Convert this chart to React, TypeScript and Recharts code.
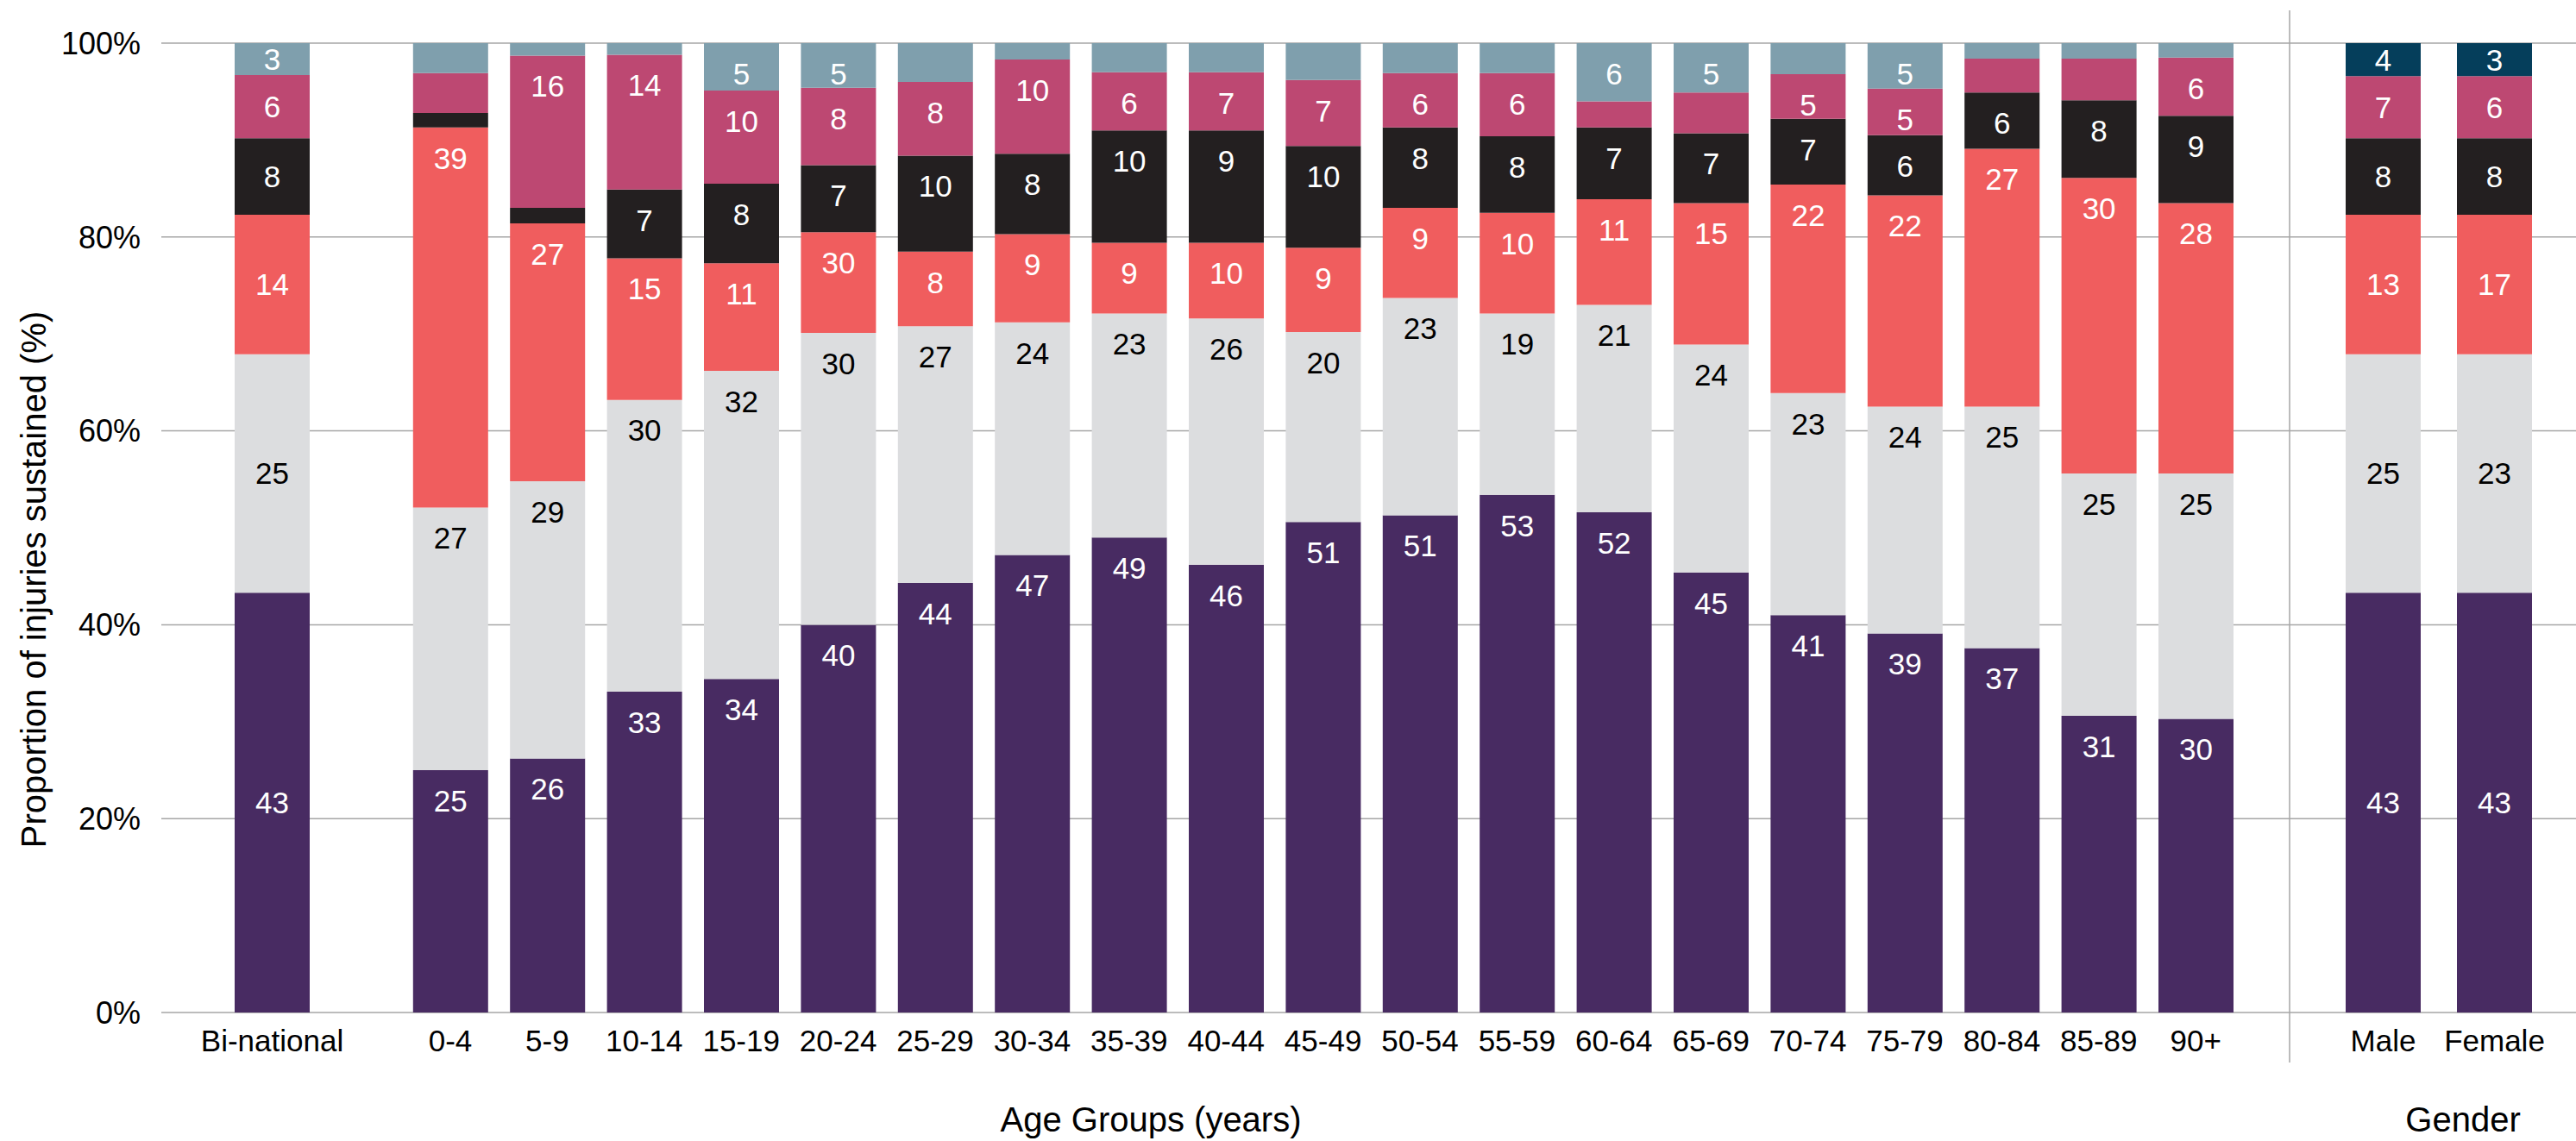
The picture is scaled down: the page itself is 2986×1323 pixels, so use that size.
import { BarChart, Bar, XAxis, YAxis, CartesianGrid, LabelList } from "recharts";

const categories = [
  "Bi-national",
  "0-4", "5-9", "10-14", "15-19", "20-24", "25-29", "30-34", "35-39", "40-44",
  "45-49", "50-54", "55-59", "60-64", "65-69", "70-74", "75-79", "80-84", "85-89", "90+",
  "Male", "Female",
];

// segment heights (% of injuries), bottom to top
const purple = [43.3, 25.0, 26.2, 33.1, 34.4, 40.0, 44.3, 47.2, 49.0, 46.2, 50.6, 51.3, 53.4, 51.6, 45.4, 41.0, 39.1, 37.6, 30.6, 30.3, 43.3, 43.3];
const grey = [24.6, 27.1, 28.6, 30.1, 31.8, 30.1, 26.5, 24.0, 23.1, 25.4, 19.6, 22.4, 18.7, 21.4, 23.5, 22.9, 23.4, 24.9, 25.0, 25.3, 24.6, 24.6];
const coral = [14.4, 39.2, 26.6, 14.6, 11.1, 10.4, 7.7, 9.1, 7.3, 7.8, 8.7, 9.3, 10.4, 10.9, 14.6, 21.5, 21.8, 26.6, 30.5, 27.9, 14.4, 14.4];
const black = [7.9, 1.5, 1.6, 7.1, 8.2, 6.9, 9.9, 8.3, 11.6, 11.6, 10.5, 8.3, 7.9, 7.4, 7.2, 6.8, 6.2, 5.8, 8.0, 9.0, 7.9, 7.9];
const pink = [6.5, 4.1, 15.7, 13.9, 9.6, 8.0, 7.6, 9.7, 6.0, 6.0, 6.8, 5.6, 6.5, 2.7, 4.2, 4.6, 4.8, 3.5, 4.3, 6.0, 6.4, 6.4];
const top = [3.3, 3.1, 1.3, 1.2, 4.9, 4.6, 4.0, 1.7, 3.0, 3.0, 3.8, 3.1, 3.1, 6.0, 5.1, 3.2, 4.7, 1.6, 1.6, 1.5, 3.4, 3.4];

// printed data labels (null = no label on that segment)
const purpleLabels = ["43", "25", "26", "33", "34", "40", "44", "47", "49", "46", "51", "51", "53", "52", "45", "41", "39", "37", "31", "30", "43", "43"];
const greyLabels = ["25", "27", "29", "30", "32", "30", "27", "24", "23", "26", "20", "23", "19", "21", "24", "23", "24", "25", "25", "25", "25", "23"];
const coralLabels = ["14", "39", "27", "15", "11", "30", "8", "9", "9", "10", "9", "9", "10", "11", "15", "22", "22", "27", "30", "28", "13", "17"];
const blackLabels = ["8", null, null, "7", "8", "7", "10", "8", "10", "9", "10", "8", "8", "7", "7", "7", "6", "6", "8", "9", "8", "8"];
const pinkLabels = ["6", null, "16", "14", "10", "8", "8", "10", "6", "7", "7", "6", "6", null, null, "5", "5", null, null, "6", "7", "6"];
const topLabels = ["3", null, null, null, "5", "5", null, null, null, null, null, null, null, "6", "5", null, "5", null, null, null, "4", "3"];

const yTicks = [0, 20, 40, 60, 80, 100];

const rows = categories.map((category, i) => ({
  category,
  purple: purple[i],
  grey: grey[i],
  coral: coral[i],
  black: black[i],
  pink: pink[i],
  top: top[i],
  purpleLabel: purpleLabels[i],
  greyLabel: greyLabels[i],
  coralLabel: coralLabels[i],
  blackLabel: blackLabels[i],
  pinkLabel: pinkLabels[i],
  topLabel: topLabels[i],
}));

const FONT = "'Liberation Sans', Arial, Helvetica, sans-serif";
const GRID = "#a6a6a6";
const CHART_H = 1323;
const MARGIN = { top: 50, right: 0, bottom: 0, left: 0 };

type Row = (typeof rows)[number];

type PanelProps = {
  data: Row[];
  width: number;
  padding: { left: number; right: number };
  showYAxis?: boolean;
  labelPos: "center" | "insideTop";
  topColor: string;
};

const Panel = ({ data, width, padding, showYAxis, labelPos, topColor }: PanelProps) => {
  const series = [
    { key: "purple", color: "#482b62", text: "#ffffff" },
    { key: "grey", color: "#dcdddf", text: "#000000" },
    { key: "coral", color: "#f05d5e", text: "#ffffff" },
    { key: "black", color: "#231f20", text: "#ffffff" },
    { key: "pink", color: "#bd4872", text: "#ffffff" },
    { key: "top", color: topColor, text: "#ffffff" },
  ];
  return (
    <BarChart width={width} height={CHART_H} data={data} margin={MARGIN} barSize={87}>
      <CartesianGrid vertical={false} stroke={GRID} strokeWidth={1.5} />
      <XAxis
        dataKey="category"
        height={149}
        interval={0}
        axisLine={false}
        tickLine={false}
        tickSize={0}
        tickMargin={20}
        padding={padding}
        tick={{ fontSize: 35, fill: "#000", fontFamily: FONT }}
      />
      <YAxis
        hide={!showYAxis}
        width={187}
        domain={[0, 100]}
        allowDataOverflow
        ticks={yTicks}
        interval={0}
        axisLine={false}
        tickLine={false}
        tickSize={0}
        tickMargin={24}
        tickFormatter={(v: number) => `${v}%`}
        tick={{ fontSize: 36, fill: "#000", fontFamily: FONT }}
      />
      {series.map((s) => (
        <Bar key={s.key} dataKey={s.key} stackId="a" fill={s.color} isAnimationActive={false}>
          <LabelList
            dataKey={`${s.key}Label`}
            position={labelPos}
            offset={23}
            fill={s.text}
            fontSize={35}
            fontFamily={FONT}
          />
        </Bar>
      ))}
    </BarChart>
  );
};

const App = () => {
  return (
    <div
      style={{
        position: "absolute",
        left: 0,
        top: 0,
        width: 2986,
        height: CHART_H,
        background: "#fff",
        fontFamily: FONT,
        overflow: "hidden",
      }}
    >
      <div style={{ position: "absolute", left: 0, top: 0 }}>
        <Panel
          data={rows.slice(0, 1)}
          width={444}
          padding={{ left: 0, right: 0 }}
          showYAxis
          labelPos="center"
          topColor="#7f9fad"
        />
      </div>
      <div style={{ position: "absolute", left: 444, top: 0 }}>
        <Panel
          data={rows.slice(1, 20)}
          width={2210}
          padding={{ left: 21.8, right: 52.6 }}
          labelPos="insideTop"
          topColor="#7f9fad"
        />
      </div>
      <div style={{ position: "absolute", left: 2654, top: 0 }}>
        <Panel
          data={rows.slice(20)}
          width={332}
          padding={{ left: 44, right: 30 }}
          labelPos="center"
          topColor="#053e5b"
        />
      </div>
      {/* panel divider and axis titles */}
      <svg
        width={2986}
        height={CHART_H}
        style={{ position: "absolute", left: 0, top: 0, pointerEvents: "none" }}
      >
        <line x1={2654} y1={12} x2={2654} y2={1232} stroke={GRID} strokeWidth={1.5} />
        <text x={1334} y={1312} textAnchor="middle" fontSize={40} fontFamily={FONT} fill="#000">
          Age Groups (years)
        </text>
        <text x={2855} y={1312} textAnchor="middle" fontSize={40} fontFamily={FONT} fill="#000">
          Gender
        </text>
        <text
          transform="translate(53,672) rotate(-90)"
          textAnchor="middle"
          fontSize={40}
          fontFamily={FONT}
          fill="#000"
        >
          Proportion of injuries sustained (%)
        </text>
      </svg>
    </div>
  );
};

export default App;
